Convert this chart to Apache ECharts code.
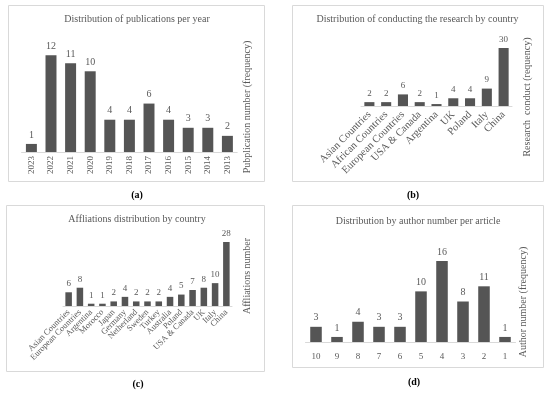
<!DOCTYPE html>
<html><head><meta charset="utf-8">
<script src="https://cdn.jsdelivr.net/npm/echarts@6/dist/echarts.min.js"></script>
<style>html,body{margin:0;padding:0;background:#fff}#c{width:550px;height:394px}</style>
</head><body><div id="c"></div>
<script>
const yearsA = ['2023','2022','2021','2020','2019','2018','2017','2016','2015','2014','2013'];
const valuesA = [1,12,11,10,4,4,6,4,3,3,2];
const countriesB = ['Asian Countries','African Countries','European Countries','USA & Canada','Argentina','UK','Poland','Italy','China'];
const valuesB = [2,2,6,2,1,4,4,9,30];
const countriesC = ['Asian Countries','European Countries','Argentina','Morocco','Japan','Germany','Netherland','Sweden','Turkey','Australia','Poland','USA & Canada','UK','Italy','China'];
const valuesC = [6,8,1,1,2,4,2,2,2,4,5,7,8,10,28];
const authorsD = ['10','9','8','7','6','5','4','3','2','1'];
const valuesD = [3,1,4,3,3,10,16,8,11,1];

const FONT = '"Liberation Serif", "DejaVu Serif", serif';
const TXT = '#595959';
const BAR = '#555555';
const AXL = '#d9d9d9';

const grids = [
  {left:21.6, width:215.6, top:39, height:113},
  {left:361, width:151, top:48, height:58},
  {left:63, width:169, top:242, height:64},
  {left:305.5, width:210, top:261, height:81}
];
const cats = [yearsA, countriesB, countriesC, authorsD];
const vals = [valuesA, valuesB, valuesC, valuesD];
const maxes = [14, 30, 28, 16];
const rot = [90, 45, 45, 0];
const catFont = [9, 10.5, 8.5, 9];
const margins = [4, 7, 5, 10];
const gaps = ['44%','40%','42%','45%'];

const chart = echarts.init(document.getElementById('c'), null, {renderer:'canvas'});
chart.setOption({
  animation:false,
  textStyle:{fontFamily:FONT},
  title:[
    {text:'Distribution of publications per year', left:137, top:14, textAlign:'center'},
    {text:'Distribution of conducting the research by country', left:417.5, top:14, textAlign:'center'},
    {text:'Affliations distribution by country', left:137, top:214, textAlign:'center'},
    {text:'Distribution by author number per article', left:418, top:216, textAlign:'center'}
  ].map(t=>Object.assign(t,{padding:0,textStyle:{fontFamily:FONT,fontSize:10,fontWeight:'normal',color:TXT}})),
  grid: grids,
  xAxis: grids.map((g,i)=>({type:'category', gridIndex:i, data:cats[i],
    axisLine:{lineStyle:{color:AXL,width:1}}, axisTick:{show:false},
    axisLabel:{interval:0, rotate:rot[i], fontSize:catFont[i], color:TXT, fontFamily:FONT, margin: margins[i]}})),
  yAxis: grids.map((g,i)=>({type:'value', gridIndex:i, min:0, max:maxes[i], show:false})),
  series: vals.map((v,i)=>({type:'bar', xAxisIndex:i, yAxisIndex:i, data:v, barCategoryGap:gaps[i],
    itemStyle:{color:BAR},
    label:{show:true, position:'top', distance:4, fontSize:i===0||i===3?10:9, color:TXT, fontFamily:FONT}})),
  graphic:[
    {type:'rect', shape:{x:8.5,y:5.5,width:256,height:176}, style:{fill:'none',stroke:'#d9d9d9',lineWidth:1}},
    {type:'rect', shape:{x:292.5,y:5.5,width:251,height:176}, style:{fill:'none',stroke:'#d9d9d9',lineWidth:1}},
    {type:'rect', shape:{x:6.5,y:205.5,width:258,height:166}, style:{fill:'none',stroke:'#d9d9d9',lineWidth:1}},
    {type:'rect', shape:{x:292.5,y:205.5,width:251,height:162}, style:{fill:'none',stroke:'#d9d9d9',lineWidth:1}},
    {type:'text', x:247, y:107, rotation:Math.PI/2, style:{text:'Pubplication number (frequency)', fill:TXT, font:'10px '+FONT, textAlign:'center', textVerticalAlign:'middle'}},
    {type:'text', x:527, y:97, rotation:Math.PI/2, style:{text:'Research  conduct (requency)', fill:TXT, font:'10px '+FONT, textAlign:'center', textVerticalAlign:'middle'}},
    {type:'text', x:247, y:276, rotation:Math.PI/2, style:{text:'Affliations number', fill:TXT, font:'10px '+FONT, textAlign:'center', textVerticalAlign:'middle'}},
    {type:'text', x:523, y:302, rotation:Math.PI/2, style:{text:'Author number (frequency)', fill:TXT, font:'10px '+FONT, textAlign:'center', textVerticalAlign:'middle'}},
    {type:'text', x:137, y:195, style:{text:'(a)', fill:'#000', font:'bold 10px '+FONT, textAlign:'center', textVerticalAlign:'middle'}},
    {type:'text', x:413, y:195, style:{text:'(b)', fill:'#000', font:'bold 10px '+FONT, textAlign:'center', textVerticalAlign:'middle'}},
    {type:'text', x:138, y:384, style:{text:'(c)', fill:'#000', font:'bold 10px '+FONT, textAlign:'center', textVerticalAlign:'middle'}},
    {type:'text', x:414, y:382, style:{text:'(d)', fill:'#000', font:'bold 10px '+FONT, textAlign:'center', textVerticalAlign:'middle'}}
  ]
});
</script></body></html>
